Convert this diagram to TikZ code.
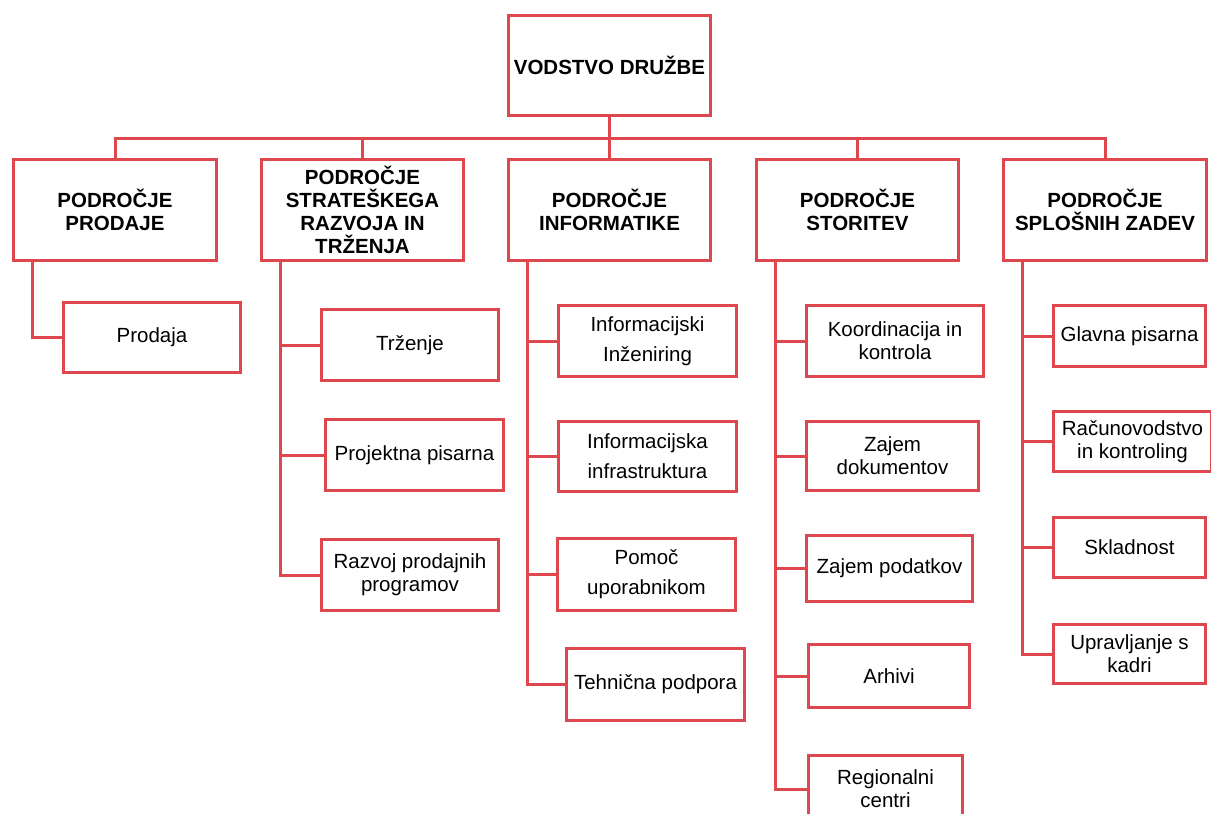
\documentclass[tikz,border=0pt]{standalone}
\usepackage{fontspec}
\setmainfont{Liberation Sans}
\usepackage{tikz}
\definecolor{OrgLineRed}{RGB}{222,71,77}

\begin{document}
\begin{tikzpicture}[x=1pt,y=-1pt,line width=3pt,
  unit/.style n args={2}{draw=OrgLineRed,minimum width=#1pt,minimum height=#2pt,inner sep=0pt,align=center,rectangle,font=\fontsize{20.5}{23}\selectfont},
  head/.style n args={2}{unit={#1}{#2},font=\fontsize{20.5}{23}\selectfont\bfseries},
  wide/.style={font=\fontsize{20.5}{30}\selectfont},
  link/.style={draw=OrgLineRed}]
\clip (0,0) rectangle (1211,814);
\node[head={202}{100}](vod) at(609.5,65.5) {VODSTVO DRUŽBE};
\node[head={203}{101}](prod) at(115,210) {PODROČJE\\PRODAJE};
\node[head={202}{101}](strat) at(362.5,210) {PODROČJE\\STRATEŠKEGA\\RAZVOJA IN\\TRŽENJA};
\node[head={202}{101}](info) at(609.5,210) {PODROČJE\\INFORMATIKE};
\node[head={202}{101}](stor) at(857.5,210) {PODROČJE\\STORITEV};
\node[head={203}{101}](splo) at(1105,210) {PODROČJE\\SPLOŠNIH ZADEV};
\coordinate (bus) at (609.5,138);
\node[unit={177}{70}](prod1) at(152,337.5) {Prodaja};
\node[unit={177}{71}](strat1) at(410,345) {Trženje};
\node[unit={178}{71}](strat2) at(414.5,455) {Projektna pisarna};
\node[unit={177}{71}](strat3) at(410,575) {Razvoj prodajnih\\programov};
\node[unit={178}{71},wide](info1) at(647.5,341) {Informacijski\\Inženiring};
\node[unit={178}{70},wide](info2) at(647.5,456.5) {Informacijska\\infrastruktura};
\node[unit={178}{72},wide](info3) at(646.5,574.5) {Pomoč\\uporabnikom};
\node[unit={178}{72}](info4) at(655.5,684.5) {Tehnična podpora};
\node[unit={177}{71}](stor1) at(895,341) {Koordinacija in\\kontrola};
\node[unit={172}{69}](stor2) at(892.5,456) {Zajem\\dokumentov};
\node[unit={166}{66}](stor3) at(889.5,568.5) {Zajem podatkov};
\node[unit={161}{63}](stor4) at(889,676) {Arhivi};
\node[unit={154}{68}](stor5) at(885.5,789) {Regionalni\\centri};
\node[unit={152}{61}](splo1) at(1129.5,336) {Glavna pisarna};
\node[unit={158}{60}](splo2) at(1132.5,441.5) {Računovodstvo\\in kontroling};
\node[unit={152}{60}](splo3) at(1129.5,547.5) {Skladnost};
\node[unit={152}{59}](splo4) at(1129.5,654) {Upravljanje s\\kadri};
\draw[link] (vod.south) -- (info.north);
\foreach \p in {prod,strat,stor,splo} {
   \draw[link] (bus) -| (\p.north);
}
\foreach \p/\c in %
{prod/prod1,strat/strat1,strat/strat2,strat/strat3,info/info1,info/info2,info/info3,info/info4,stor/stor1,stor/stor2,stor/stor3,stor/stor4,stor/stor5,splo/splo1,splo/splo2,splo/splo3,splo/splo4} {
   \draw[link] ([xshift=20pt]\p.south west) |- (\c.west);
}
\end{tikzpicture}
\end{document}
